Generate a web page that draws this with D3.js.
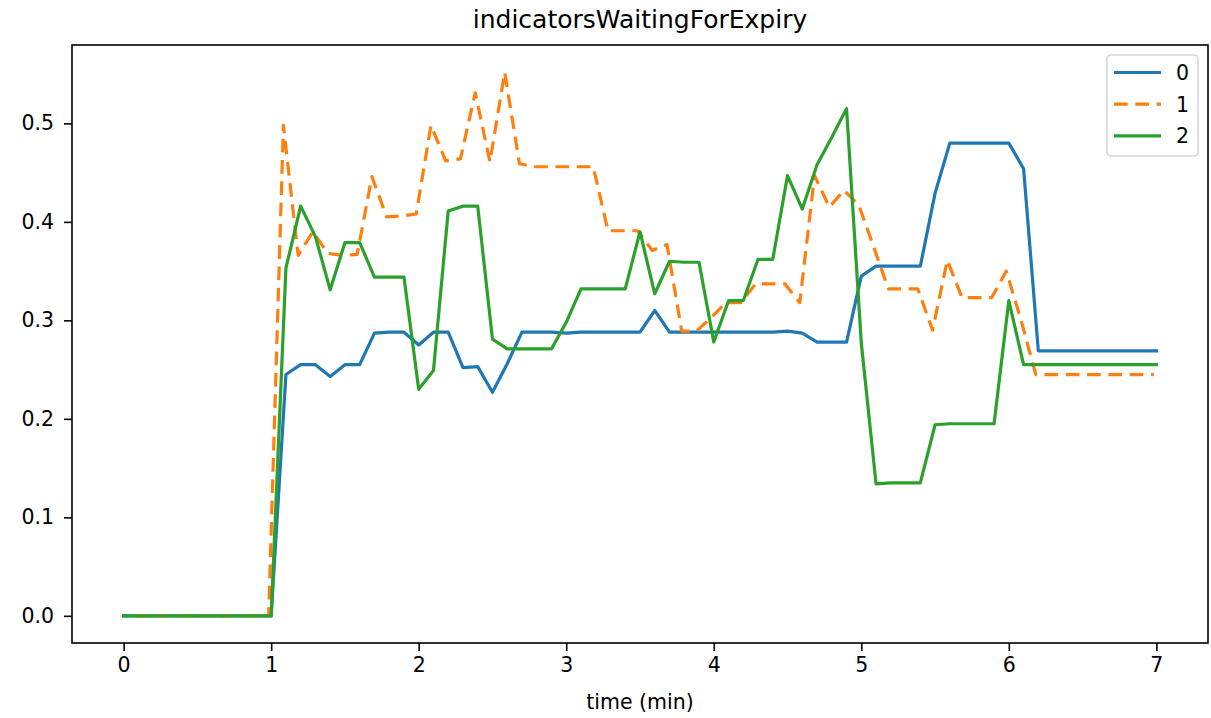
<!DOCTYPE html>
<html>
<head>
<meta charset="utf-8">
<script src="https://cdn.jsdelivr.net/npm/d3@7"></script>
<style>
  html, body { margin: 0; padding: 0; background: #fff; }
  svg { display: block; font-family: "DejaVu Sans", sans-serif; }
</style>
</head>
<body>
<svg id="chart" width="1211" height="718"></svg>
<script>
// ---- data ----
const chartTitle = "indicatorsWaitingForExpiry";
const xLabel = "time (min)";
const seriesNames = ["0", "1", "2"];

const timesA = [0,0.1,0.2,0.3,0.4,0.5,0.6,0.7,0.8,0.9,1.0,1.1,1.2,1.3,1.4,1.5,1.6,1.7,1.8,1.9,
  2.0,2.1,2.2,2.3,2.4,2.5,2.6,2.7,2.8,2.9,3.0,3.1,3.2,3.3,3.4,3.5,3.6,3.7,3.8,3.9,
  4.0,4.1,4.2,4.3,4.4,4.5,4.6,4.7,4.8,4.9,5.0,5.1,5.2,5.3,5.4,5.5,5.6,5.7,5.8,5.9,
  6.0,6.1,6.2,6.3,6.4,6.5,6.6,6.7,6.8,6.9,7.0];

const timesB = [0.083,0.183,0.283,0.383,0.483,0.583,0.683,0.783,0.883,0.983,
  1.083,1.183,1.283,1.383,1.483,1.583,1.683,1.783,1.883,1.983,
  2.083,2.183,2.283,2.383,2.483,2.583,2.683,2.783,2.883,2.983,
  3.083,3.183,3.283,3.383,3.483,3.583,3.683,3.783,3.883,3.983,
  4.083,4.183,4.283,4.383,4.483,4.583,4.683,4.783,4.883,4.983,
  5.083,5.183,5.283,5.383,5.483,5.583,5.683,5.783,5.883,5.983,
  6.083,6.183,6.283,6.383,6.483,6.583,6.683,6.783,6.883,6.983];

const values0 = [0,0,0,0,0,0,0,0,0,0,0,
  0.245,0.255,0.255,0.243,0.255,0.255,0.287,0.288,0.288,0.275,
  0.288,0.288,0.252,0.253,0.227,0.256,0.288,0.288,0.288,0.287,
  0.288,0.288,0.288,0.288,0.288,0.310,0.288,0.288,0.288,0.288,
  0.288,0.288,0.288,0.288,0.289,0.287,0.278,0.278,0.278,0.345,
  0.355,0.355,0.355,0.355,0.429,0.480,0.480,0.480,0.480,0.480,
  0.454,0.269,0.269,0.269,0.269,0.269,0.269,0.269,0.269,0.269];

const values1 = [0,0,0,0,0,0,0,0,0,0,
  0.498,0.366,0.390,0.368,0.366,0.367,0.446,0.405,0.406,0.408,
  0.498,0.462,0.464,0.531,0.461,0.552,0.459,0.456,0.456,0.456,
  0.456,0.456,0.391,0.391,0.391,0.371,0.377,0.289,0.289,0.303,
  0.318,0.318,0.337,0.337,0.337,0.318,0.447,0.415,0.432,0.417,
  0.375,0.332,0.332,0.332,0.290,0.361,0.323,0.323,0.323,0.350,
  0.300,0.245,0.245,0.245,0.245,0.245,0.245,0.245,0.245,0.245];

const values2 = [0,0,0,0,0,0,0,0,0,0,0,
  0.353,0.416,0.385,0.331,0.379,0.379,0.344,0.344,0.344,0.230,
  0.249,0.411,0.416,0.416,0.281,0.271,0.271,0.271,0.271,0.298,
  0.332,0.332,0.332,0.332,0.390,0.327,0.360,0.359,0.359,0.278,
  0.320,0.320,0.362,0.362,0.447,0.413,0.458,0.486,0.515,0.277,
  0.134,0.135,0.135,0.135,0.194,0.195,0.195,0.195,0.195,0.320,
  0.255,0.255,0.255,0.255,0.255,0.255,0.255,0.255,0.255,0.255];

const xTicks = [0,1,2,3,4,5,6,7];
const yTicks = [0.0,0.1,0.2,0.3,0.4,0.5];

const colors = ["#1f77b4", "#ff7f0e", "#2ca02c"];
const dashes = [null, "13.7,7.6", null];

// ---- layout ----
const plot = { left: 72, right: 1208, top: 45, bottom: 643 };
const svg = d3.select("#chart");

const x = d3.scaleLinear().domain([-0.35, 7.35]).range([plot.left, plot.right]);
const y = d3.scaleLinear().domain([-0.0276, 0.5796]).range([plot.bottom, plot.top]);

const series = [
  { name: seriesNames[0], t: timesA, v: values0 },
  { name: seriesNames[1], t: timesB, v: values1 },
  { name: seriesNames[2], t: timesA, v: values2 }
];

svg.append("defs").append("clipPath").attr("id", "clip")
  .append("rect").attr("x", plot.left).attr("y", plot.top)
  .attr("width", plot.right - plot.left).attr("height", plot.bottom - plot.top);

const line = d3.line().x(d => x(d[0])).y(d => y(d[1]));

const lines = svg.append("g").attr("clip-path", "url(#clip)");
series.forEach((s, i) => {
  const pts = s.t.map((t, j) => [t, s.v[j]]);
  lines.append("path")
    .datum(pts)
    .attr("d", line)
    .attr("fill", "none")
    .attr("stroke", colors[i])
    .attr("stroke-width", 3.2)
    .attr("stroke-linejoin", "round")
    .attr("stroke-linecap", dashes[i] ? "butt" : "square")
    .attr("stroke-dasharray", dashes[i]);
});

// axes
const fontSize = 20.5;
const xAxis = d3.axisBottom(x).tickValues(xTicks).tickFormat(d3.format("d")).tickSizeInner(8).tickSizeOuter(0).tickPadding(6);
const yAxis = d3.axisLeft(y).tickValues(yTicks).tickFormat(d3.format(".1f")).tickSizeInner(8).tickSizeOuter(0).tickPadding(10);

const gx = svg.append("g").attr("transform", `translate(0,${plot.bottom})`).call(xAxis);
const gy = svg.append("g").attr("transform", `translate(${plot.left},0)`).call(yAxis);
[gx, gy].forEach(g => {
  g.select(".domain").remove();
  g.selectAll(".tick line").attr("stroke", "#000").attr("stroke-width", 1.6);
  g.selectAll(".tick text").attr("fill", "#000").style("font-size", fontSize + "px").style("font-family", "DejaVu Sans");
});

svg.append("rect")
  .attr("x", plot.left).attr("y", plot.top)
  .attr("width", plot.right - plot.left).attr("height", plot.bottom - plot.top)
  .attr("fill", "none").attr("stroke", "#000").attr("stroke-width", 1.6);

svg.append("text")
  .attr("x", (plot.left + plot.right) / 2).attr("y", 28)
  .attr("text-anchor", "middle")
  .style("font-size", "25px")
  .text(chartTitle);

svg.append("text")
  .attr("x", (plot.left + plot.right) / 2).attr("y", 709)
  .attr("text-anchor", "middle")
  .style("font-size", fontSize + "px")
  .text(xLabel);

// legend
const leg = svg.append("g");
leg.append("rect")
  .attr("x", 1107).attr("y", 55).attr("width", 91).attr("height", 101)
  .attr("rx", 4).attr("ry", 4)
  .attr("fill", "#fff").attr("fill-opacity", 0.8)
  .attr("stroke", "#d6d6d6").attr("stroke-width", 1.6);
series.forEach((s, i) => {
  const yy = 72.5 + i * 31.7;
  leg.append("line")
    .attr("x1", 1114).attr("x2", 1161).attr("y1", yy).attr("y2", yy)
    .attr("stroke", colors[i]).attr("stroke-width", 3.2)
    .attr("stroke-dasharray", dashes[i]);
  leg.append("text")
    .attr("x", 1176).attr("y", yy + 7.5)
    .style("font-size", fontSize + "px")
    .text(s.name);
});
</script>
</body>
</html>
